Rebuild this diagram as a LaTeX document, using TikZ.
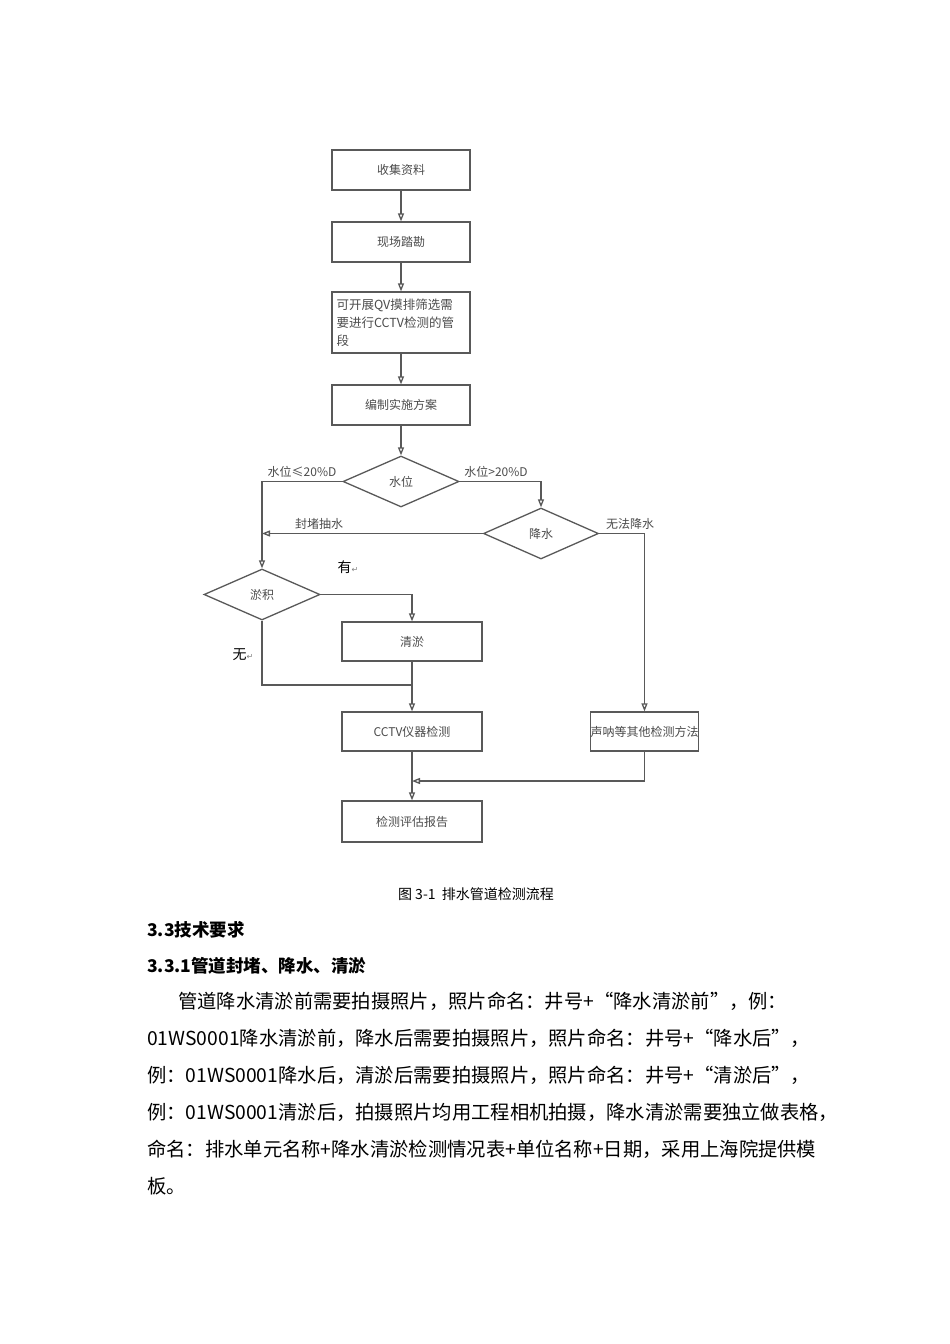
\documentclass[tikz,border=0pt]{standalone}
\usepackage{fontspec}
\setmainfont{Noto Sans CJK SC}
\newfontfamily\dejavu{DejaVu Sans}
\usetikzlibrary{shapes.geometric,arrows.meta}
\begin{document}
\begin{tikzpicture}[x=1pt,y=-1pt,
  ln/.style={draw=black!65,line width=1.3pt},
  ar/.style={ln,-{Triangle[open,length=8pt,width=6pt]}},
  box/.style={ln,rectangle,inner sep=0pt,font=\fontsize{12}{14}\selectfont,text=black!70},
  dia/.style={ln,diamond,aspect=2.25,inner sep=0pt,font=\fontsize{12}{14}\selectfont,text=black!70},
  lab/.style={font=\fontsize{12}{14}\selectfont,text=black!70,inner sep=0pt},
  para/.style={anchor=west,inner sep=0pt,font=\fontsize{19.3}{21}\selectfont}]
\useasboundingbox[fill=white] (0,0) rectangle (950,1344);
\node[box,minimum width=138pt,minimum height=40pt] (b1) at (401,170) {收集资料};
\node[box,minimum width=138pt,minimum height=40pt] (b2) at (401,242) {现场踏勘};
\node[box,minimum width=138pt,minimum height=61pt,align=left,font=\fontsize{12.5}{18}\selectfont] (b3) at (401,322.5) {可开展QV摸排筛选需\\要进行CCTV检测的管\\段\hphantom{可开展QV摸排筛选需}};
\node[box,minimum width=138pt,minimum height=40pt] (b4) at (401,405) {编制实施方案};
\node[dia,minimum width=116pt,minimum height=51pt] (d1) at (401,481.5) {水位};
\node[dia,minimum width=115pt,minimum height=51pt] (d2) at (541,533.5) {降水};
\node[dia,minimum width=116pt,minimum height=51pt] (d3) at (262,594.5) {淤积};
\node[box,minimum width=140pt,minimum height=39pt] (b5) at (412,641.5) {清淤};
\node[box,minimum width=140pt,minimum height=39pt] (b6) at (412,731.5) {CCTV仪器检测};
\node[box,minimum width=105pt,minimum height=39pt] (b7) at (644.5,731.5) {声呐等其他检测方法};
\node[box,minimum width=140pt,minimum height=41pt] (b8) at (412,821.5) {检测评估报告};
\draw[ar] (b1) -- (b2);
\draw[ar] (b2) -- (b3);
\draw[ar] (b3) -- (b4);
\draw[ar] (b4) -- (d1);
\draw[ar] (d1.west) -| (d3.north);
\draw[ar] (d1.east) -| (d2.north);
\coordinate (j1) at (d3.north |- d2.west);
\draw[ar] (d2.west) -- (j1);
\draw[ar] (d2.east) -| (b7.north);
\draw[ar] (d3.east) -| (b5.north);
\coordinate (j2) at (412,685);
\draw[ln] (d3.south) |- (j2);
\draw[ar] (b5.south) -- (b6.north);
\draw[ar] (b6.south) -- (b8.north);
\coordinate (j3) at (412,781);
\draw[ar] (b7.south) |- (j3);
\node[lab] (l1) at (302,472) {水位≤20\%D};
\node[lab] (l2) at (496,472) {水位>20\%D};
\node[lab] (l3) at (319,524) {封堵抽水};
\node[lab] (l4) at (630,524) {无法降水};
\node[lab,font=\fontsize{14}{16}\selectfont,text=black] (l5) at (348,567) {有{\dejavu\textcolor{black!50}{\fontsize{8}{8}\selectfont↵}}};
\node[lab,font=\fontsize{14}{16}\selectfont,text=black] (l6) at (243,655) {无{\dejavu\textcolor{black!50}{\fontsize{8}{8}\selectfont↵}}};
\node[inner sep=0pt,font=\fontsize{14}{16}\selectfont] (cap) at (476,894) {图 3-1\ \ 排水管道检测流程};
\node[para,font=\fontsize{17.5}{19}\selectfont\bfseries] (h1) at (147,930) {3.3技术要求};
\node[para,font=\fontsize{17.5}{19}\selectfont\bfseries] (h2) at (147,966) {3.3.1管道封堵、降水、清淤};
\node[para] (p1) at (178,1001) {管道降水清淤前需要拍摄照片，照片命名：井号+“降水清淤前”，例：};
\node[para] (p2) at (147,1038) {01WS0001降水清淤前，降水后需要拍摄照片，照片命名：井号+“降水后”，};
\node[para] (p3) at (147,1075) {例：01WS0001降水后，清淤后需要拍摄照片，照片命名：井号+“清淤后”，};
\node[para] (p4) at (147,1112) {例：01WS0001清淤后，拍摄照片均用工程相机拍摄，降水清淤需要独立做表格，};
\node[para] (p5) at (147,1149) {命名：排水单元名称+降水清淤检测情况表+单位名称+日期，采用上海院提供模};
\node[para] (p6) at (147,1186) {板。};
\end{tikzpicture}
\end{document}
